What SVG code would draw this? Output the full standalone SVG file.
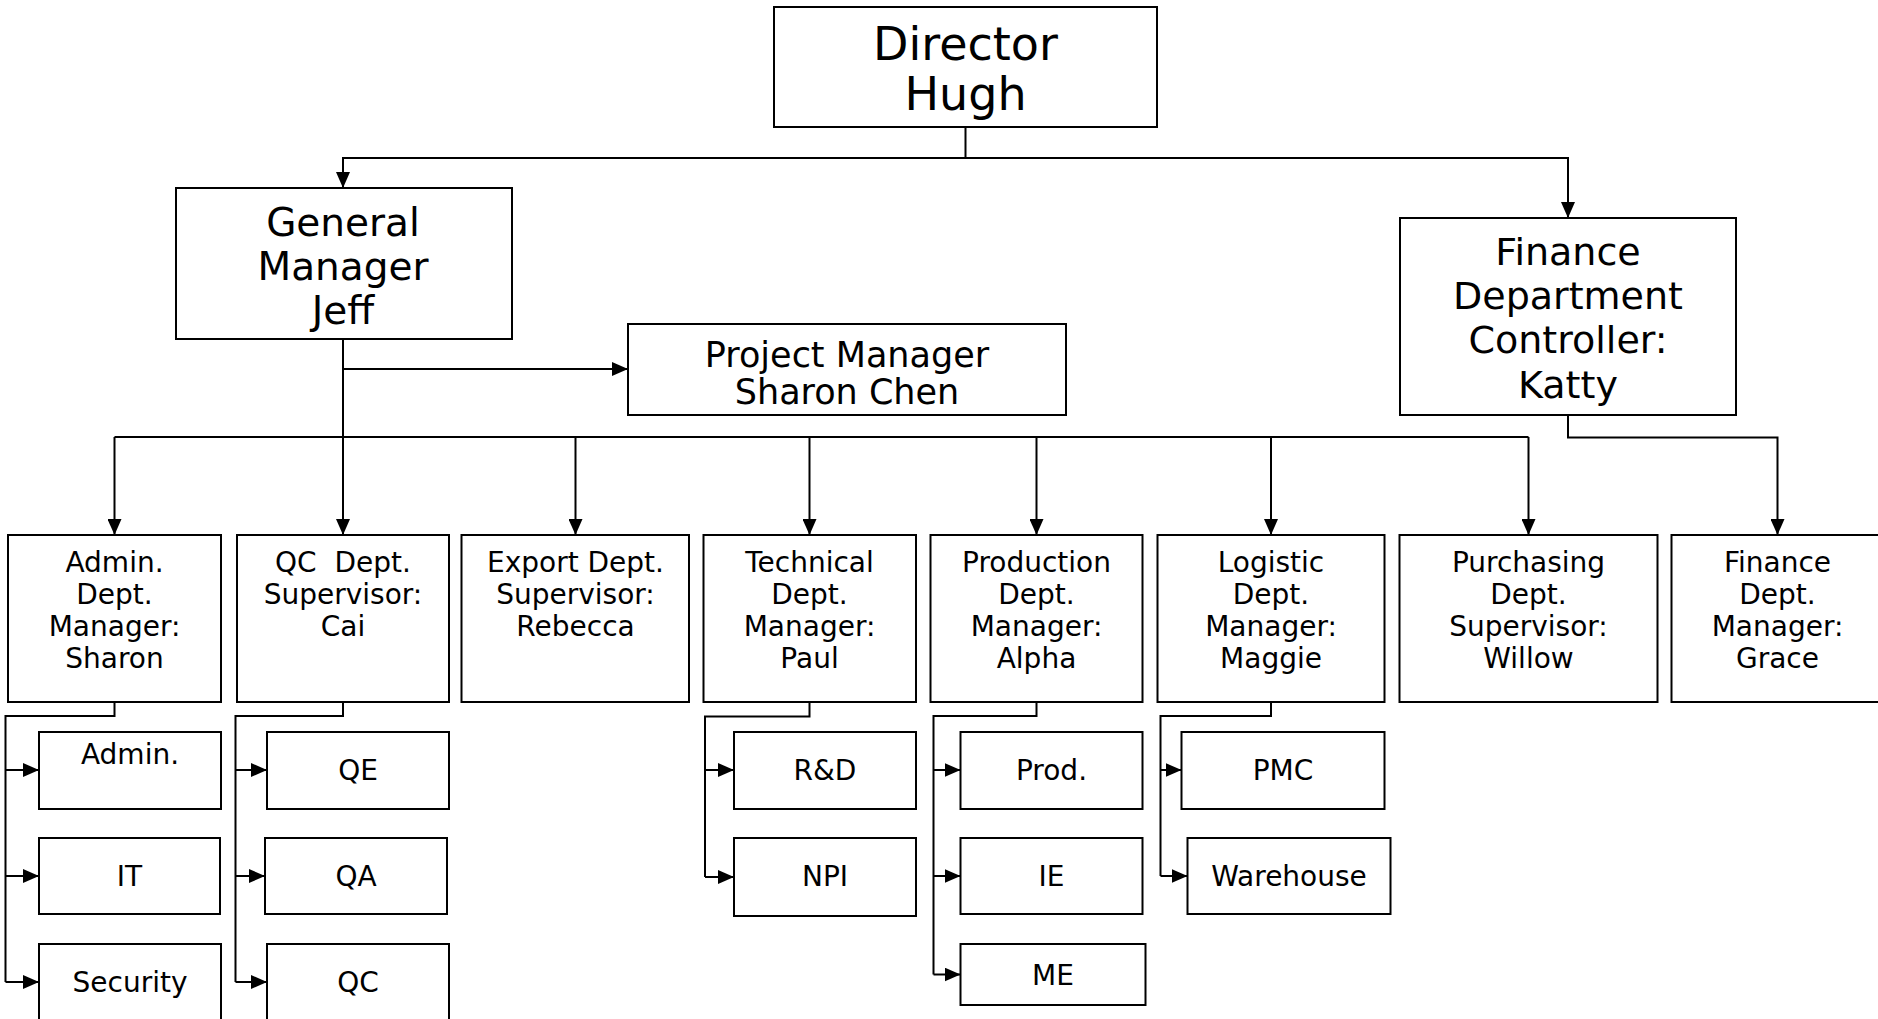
<svg xmlns="http://www.w3.org/2000/svg" width="1878" height="1019" viewBox="0 0 1878 1019">
<style>
.box{fill:#fff;stroke:#000;stroke-width:2}
.t{font-family:"DejaVu Sans","Liberation Sans",sans-serif;text-anchor:middle;fill:#000}
.s28{font-size:28px}
.conn{fill:none;stroke:#000;stroke-width:2}
</style>
<defs>
<marker id="arr" markerUnits="userSpaceOnUse" markerWidth="16" markerHeight="14" refX="16" refY="7" orient="auto">
<path d="M0,0 L16,7 L0,14 z" fill="#000"/>
</marker>
</defs>
<rect width="1878" height="1019" fill="#fff"/>
<g id="connectors" class="conn">
<path d="M965.5 127 V158 H343 V188" marker-end="url(#arr)"/>
<path d="M965.5 158 H1568 V218" marker-end="url(#arr)"/>
<path d="M343 339 V369 H628" marker-end="url(#arr)"/>
<path d="M343 339 V437"/>
<path d="M114.5 437 H1528.5"/>
<path d="M114.5 437 V535" marker-end="url(#arr)"/>
<path d="M343 437 V535" marker-end="url(#arr)"/>
<path d="M575.5 437 V535" marker-end="url(#arr)"/>
<path d="M809.5 437 V535" marker-end="url(#arr)"/>
<path d="M1036.5 437 V535" marker-end="url(#arr)"/>
<path d="M1271 437 V535" marker-end="url(#arr)"/>
<path d="M1528.5 437 V535" marker-end="url(#arr)"/>
<path d="M1568 415 V437.5 H1777.5 V535" marker-end="url(#arr)"/>
<path d="M114.5 702 V716 H5.5 V982"/>
<path d="M5.5 770 H39" marker-end="url(#arr)"/>
<path d="M5.5 876 H39" marker-end="url(#arr)"/>
<path d="M5.5 982 H39" marker-end="url(#arr)"/>
<path d="M343 702 V716 H235.5 V982"/>
<path d="M235.5 770 H267" marker-end="url(#arr)"/>
<path d="M235.5 876 H265" marker-end="url(#arr)"/>
<path d="M235.5 982 H267" marker-end="url(#arr)"/>
<path d="M809.5 702 V716.5 H705 V877"/>
<path d="M705 770 H734" marker-end="url(#arr)"/>
<path d="M705 877 H734" marker-end="url(#arr)"/>
<path d="M1036.5 702 V716 H933.5 V974.5"/>
<path d="M933.5 770 H960.5" marker-end="url(#arr)"/>
<path d="M933.5 876 H960.5" marker-end="url(#arr)"/>
<path d="M933.5 974.5 H960.5" marker-end="url(#arr)"/>
<path d="M1271 702 V716 H1160.5 V876"/>
<path d="M1160.5 770 H1181.5" marker-end="url(#arr)"/>
<path d="M1160.5 876 H1187.5" marker-end="url(#arr)"/>
</g>
<g id="director"><rect class="box" x="774" y="7" width="383" height="120"/>
<text class="t" font-size="46" x="965.5" y="60">Director</text><text class="t" font-size="46" x="965.5" y="110">Hugh</text></g>
<g id="gm"><rect class="box" x="176" y="188" width="336" height="151"/>
<text class="t" font-size="39" x="343" y="236">General</text><text class="t" font-size="39" x="343" y="280">Manager</text><text class="t" font-size="39" x="343" y="324">Jeff</text></g>
<g id="pm"><rect class="box" x="628" y="324" width="438" height="91"/>
<text class="t" font-size="35" x="847" y="367">Project Manager</text><text class="t" font-size="35" x="847" y="404">Sharon Chen</text></g>
<g id="finctrl"><rect class="box" x="1400" y="218" width="336" height="197"/>
<text class="t" font-size="38" x="1568" y="265">Finance</text><text class="t" font-size="38" x="1568" y="309">Department</text><text class="t" font-size="38" x="1568" y="353">Controller:</text><text class="t" font-size="38" x="1568" y="398">Katty</text></g>
<g id="admin"><rect class="box" x="8" y="535" width="213" height="167"/>
<text class="t s28" x="114.5" y="572">Admin.</text><text class="t s28" x="114.5" y="604">Dept.</text><text class="t s28" x="114.5" y="636">Manager:</text><text class="t s28" x="114.5" y="668">Sharon</text></g>
<g id="qcdept"><rect class="box" x="237" y="535" width="212" height="167"/>
<text class="t s28" x="343" y="572" xml:space="preserve">QC  Dept.</text><text class="t s28" x="343" y="604">Supervisor:</text><text class="t s28" x="343" y="636">Cai</text></g>
<g id="export"><rect class="box" x="461.5" y="535" width="227.5" height="167"/>
<text class="t s28" x="575.5" y="572">Export Dept.</text><text class="t s28" x="575.5" y="604">Supervisor:</text><text class="t s28" x="575.5" y="636">Rebecca</text></g>
<g id="technical"><rect class="box" x="703.5" y="535" width="212.5" height="167"/>
<text class="t s28" x="809.5" y="572">Technical</text><text class="t s28" x="809.5" y="604">Dept.</text><text class="t s28" x="809.5" y="636">Manager:</text><text class="t s28" x="809.5" y="668">Paul</text></g>
<g id="production"><rect class="box" x="930.5" y="535" width="212" height="167"/>
<text class="t s28" x="1036.5" y="572">Production</text><text class="t s28" x="1036.5" y="604">Dept.</text><text class="t s28" x="1036.5" y="636">Manager:</text><text class="t s28" x="1036.5" y="668">Alpha</text></g>
<g id="logistic"><rect class="box" x="1157.5" y="535" width="227" height="167"/>
<text class="t s28" x="1271" y="572">Logistic</text><text class="t s28" x="1271" y="604">Dept.</text><text class="t s28" x="1271" y="636">Manager:</text><text class="t s28" x="1271" y="668">Maggie</text></g>
<g id="purchasing"><rect class="box" x="1399.5" y="535" width="258" height="167"/>
<text class="t s28" x="1528.5" y="572">Purchasing</text><text class="t s28" x="1528.5" y="604">Dept.</text><text class="t s28" x="1528.5" y="636">Supervisor:</text><text class="t s28" x="1528.5" y="668">Willow</text></g>
<g id="finance"><rect class="box" x="1671.5" y="535" width="212" height="167"/>
<text class="t s28" x="1777.5" y="572">Finance</text><text class="t s28" x="1777.5" y="604">Dept.</text><text class="t s28" x="1777.5" y="636">Manager:</text><text class="t s28" x="1777.5" y="668">Grace</text></g>
<g id="admin-sub"><rect class="box" x="39" y="732" width="182" height="77"/><text class="t s28" x="130" y="764">Admin.</text></g>
<g id="it"><rect class="box" x="39" y="838" width="181" height="76"/><text class="t s28" x="129.5" y="886">IT</text></g>
<g id="security"><rect class="box" x="39" y="944" width="182" height="90"/><text class="t s28" x="130" y="992">Security</text></g>
<g id="qe"><rect class="box" x="267" y="732" width="182" height="77"/><text class="t s28" x="358" y="780">QE</text></g>
<g id="qa"><rect class="box" x="265" y="838" width="182" height="76"/><text class="t s28" x="356" y="886">QA</text></g>
<g id="qc"><rect class="box" x="267" y="944" width="182" height="90"/><text class="t s28" x="358" y="992">QC</text></g>
<g id="rd"><rect class="box" x="734" y="732" width="182" height="77"/><text class="t s28" x="825" y="780">R&amp;D</text></g>
<g id="npi"><rect class="box" x="734" y="838" width="182" height="78"/><text class="t s28" x="825" y="886">NPI</text></g>
<g id="prod"><rect class="box" x="960.5" y="732" width="182" height="77"/><text class="t s28" x="1051.5" y="780">Prod.</text></g>
<g id="ie"><rect class="box" x="960.5" y="838" width="182" height="76"/><text class="t s28" x="1051.5" y="886">IE</text></g>
<g id="me"><rect class="box" x="960.5" y="944" width="185" height="61"/><text class="t s28" x="1053" y="985">ME</text></g>
<g id="pmc"><rect class="box" x="1181.5" y="732" width="203" height="77"/><text class="t s28" x="1283" y="780">PMC</text></g>
<g id="warehouse"><rect class="box" x="1187.5" y="838" width="203" height="76"/><text class="t s28" x="1289" y="886">Warehouse</text></g>
</svg>
